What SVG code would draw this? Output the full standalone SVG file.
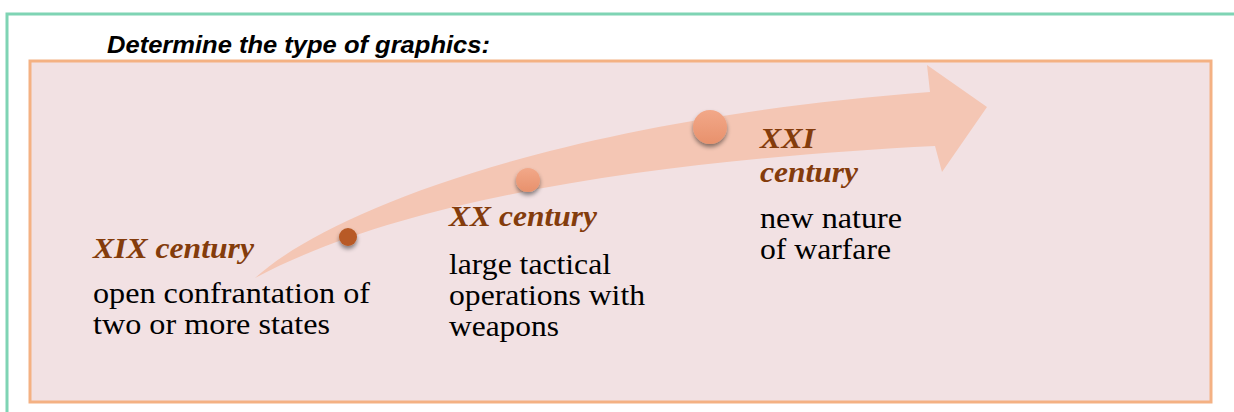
<svg xmlns="http://www.w3.org/2000/svg" width="1234" height="412" viewBox="0 0 1234 412">
<defs>
<style>
.title{font-family:"Liberation Sans",Arial,sans-serif;font-weight:bold;font-style:italic;font-size:23px;fill:#000}
.head{font-family:"Liberation Serif","Times New Roman",serif;font-weight:bold;font-style:italic;font-size:29px;fill:#843c0c}
.body{font-family:"Liberation Serif","Times New Roman",serif;font-size:29px;fill:#000}
</style>
<filter id="sh" x="-50%" y="-50%" width="200%" height="220%">
<feDropShadow dx="0" dy="3" stdDeviation="2" flood-color="#000" flood-opacity="0.45"/>
</filter>
<linearGradient id="dotg" x1="0" y1="0" x2="0" y2="1">
<stop offset="0" stop-color="#f2a889"/>
<stop offset="1" stop-color="#e8916c"/>
</linearGradient>
</defs>
<rect x="7" y="14" width="1240" height="420" fill="#fff" stroke="#7fd4b4" stroke-width="3"/>
<text class="title" x="107" y="53" textLength="383" lengthAdjust="spacingAndGlyphs">Determine the type of graphics:</text>
<rect x="30" y="61" width="1181" height="341" fill="#f2e1e3" stroke="#f4b183" stroke-width="3"/>
<g id="connectors">
<path d="M255,278 C330,210 560,120 930,92 L927,65 L987,107 L942,172 L935,146 C700,158 420,190 255,278 Z" fill="#f4c6b4"/>
</g>
<g id="node-xix">
<circle cx="348" cy="237" r="9" fill="#b85a25" filter="url(#sh)"/>
<text class="head" x="93" y="258" textLength="161" lengthAdjust="spacingAndGlyphs">XIX century</text>
<text class="body" x="93" y="303" textLength="277" lengthAdjust="spacingAndGlyphs">open confrantation of</text>
<text class="body" x="93" y="334" textLength="237" lengthAdjust="spacingAndGlyphs">two or more states</text>
</g>
<g id="node-xx">
<circle cx="528" cy="180" r="12" fill="url(#dotg)" filter="url(#sh)"/>
<text class="head" x="449" y="226" textLength="148" lengthAdjust="spacingAndGlyphs">XX century</text>
<text class="body" x="449" y="274" textLength="162" lengthAdjust="spacingAndGlyphs">large tactical</text>
<text class="body" x="449" y="305" textLength="196" lengthAdjust="spacingAndGlyphs">operations with</text>
<text class="body" x="449" y="336" textLength="110" lengthAdjust="spacingAndGlyphs">weapons</text>
</g>
<g id="node-xxi">
<circle cx="710" cy="127" r="17" fill="url(#dotg)" filter="url(#sh)"/>
<text class="head" x="760" y="148" textLength="55" lengthAdjust="spacingAndGlyphs">XXI</text>
<text class="head" x="760" y="182" textLength="98" lengthAdjust="spacingAndGlyphs">century</text>
<text class="body" x="760" y="228" textLength="142" lengthAdjust="spacingAndGlyphs">new nature</text>
<text class="body" x="760" y="259" textLength="131" lengthAdjust="spacingAndGlyphs">of warfare</text>
</g>
</svg>
